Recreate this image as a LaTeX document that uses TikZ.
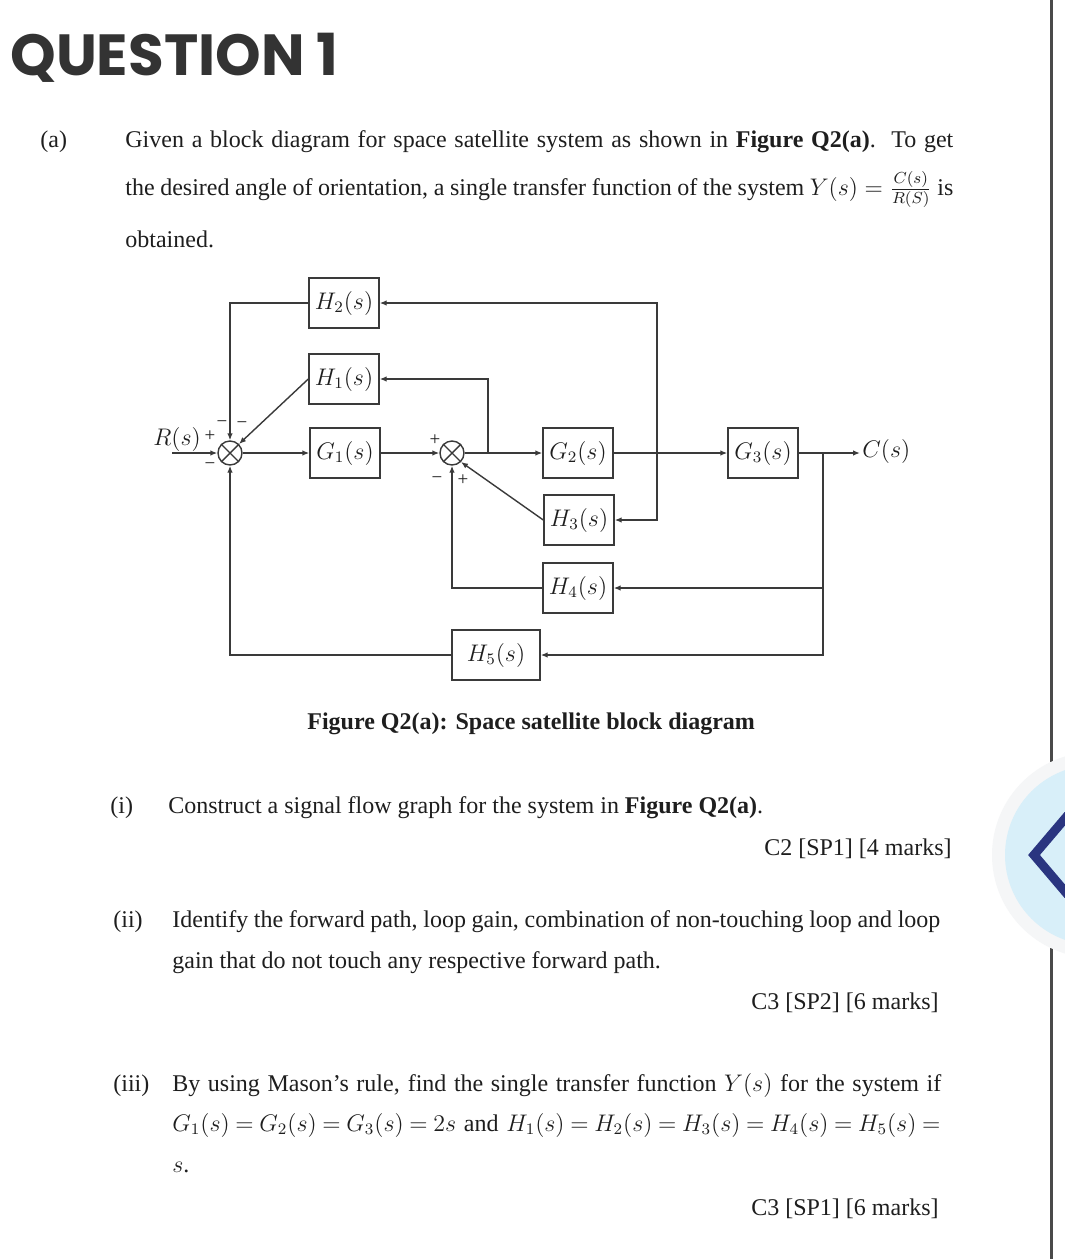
\documentclass[tikz,border=0pt]{standalone}
\usepackage{fontspec}
\usepackage{graphicx}
\setmainfont{Liberation Serif}
\newfontfamily\qfont{Poppins}
\usetikzlibrary{arrows.meta}
\definecolor{ink}{HTML}{1E1E1E}
\definecolor{wirec}{HTML}{3A3A3A}
\definecolor{qgray}{HTML}{333333}
\definecolor{barc}{HTML}{4A4A4A}
\definecolor{ringc}{HTML}{F5F6F7}
\definecolor{bluec}{HTML}{D8EFF9}
\definecolor{navyc}{HTML}{2A3580}
\tikzset{
  blk/.style={draw=wirec, line width=0.7pt, minimum width=35pt, minimum height=25pt, inner sep=0pt, text=ink, font=\fontsize{11.5}{12}\selectfont},
  sumj/.style={draw=wirec, circle, line width=0.7pt, minimum size=12pt, inner sep=0pt},
  ln/.style={draw=wirec, line width=0.7pt},
  arr/.style={ln, -{Latex[length=3.5pt,width=2.8pt]}},
  sgn/.style={font=\fontsize{9.5}{10}\selectfont, inner sep=0pt, text=ink},
  txt/.style={anchor=base west, inner sep=0pt, text=ink, font=\fontsize{12}{14}\selectfont},
  rtxt/.style={txt, anchor=base east},
}
\begin{document}
\begin{tikzpicture}[x=0.5pt, y=-0.5pt]
\fill[white] (0,0) rectangle (1065,1259);
\useasboundingbox (0,0) rectangle (1065,1259);

% right bar and button
\draw[barc, line width=1.5pt] (1051,0) -- (1051,1259);
\fill[ringc] (1095,855) circle[radius=51.5pt];
\fill[bluec] (1095,855) circle[radius=45pt];
\draw[navyc, line width=4.5pt, line join=miter] (1068,815) -- (1034,855) -- (1068,895);

% title
\node[anchor=base west, inner sep=0pt, text=qgray, font=\qfont\bfseries\fontsize{29}{31}\selectfont] (title) at (10,75) {QUESTION 1};

% part (a)
\node[txt] (pa) at (40,147) {(a)};
\node[txt] (l1) at (125,147) {\makebox[414pt][s]{Given a block diagram for space satellite system as shown in \textbf{Figure Q2(a)}.\ \ To get}};
\node[txt] (l2) at (125,195) {\makebox[414pt][s]{the desired angle of orientation, a single transfer function of the system $Y(s) = \frac{C(s)}{R(S)}$ is}};
\node[txt] (l3) at (125,247) {obtained.};

% block diagram
\node[blk] (H2) at (344,303) {$H_2(s)$};
\node[blk] (H1) at (344,379) {$H_1(s)$};
\node[blk] (G1) at (345,453) {$G_1(s)$};
\node[blk] (G2) at (578,453) {$G_2(s)$};
\node[blk] (H3) at (579,520) {$H_3(s)$};
\node[blk] (H4) at (578,588) {$H_4(s)$};
\node[blk, minimum width=44pt] (H5) at (496,655) {$H_5(s)$};
\node[blk] (G3) at (763,453) {$G_3(s)$};
\node[sumj] (s1) at (230,453) {};
\node[sumj] (s2) at (452,453) {};
\draw[ln] (s1.north west) -- (s1.south east) (s1.north east) -- (s1.south west);
\draw[ln] (s2.north west) -- (s2.south east) (s2.north east) -- (s2.south west);

\coordinate (rin) at (172,453);
\coordinate (b1) at (488,453);
\coordinate (t1) at (657,453);
\coordinate (t2) at (823,453);
\coordinate (cout) at (860,453);

\draw[arr] (rin) -- (s1.west);
\draw[arr] (s1.east) -- (G1.west);
\draw[arr] (G1.east) -- (s2.west);
\draw[arr] (s2.east) -- (G2.west);
\draw[arr] (G2.east) -- (G3.west);
\draw[arr] (G3.east) -- (cout);
\draw[arr] (b1) |- (H1.east);
\draw[arr] (H1.west) -- (s1.north east);
\draw[arr] (H2.west) -| (s1.north);
\draw[arr] (t1) |- (H2.east);
\draw[arr] (t1) |- (H3.east);
\draw[arr] (H3.west) -- (s2.south east);
\draw[arr] (t2) |- (H4.east);
\draw[arr] (t2) |- (H5.east);
\draw[arr] (H4.west) -| (s2.south);
\draw[arr] (H5.west) -| (s1.south);

\node[anchor=west, inner sep=0pt, text=ink, font=\fontsize{11.5}{12}\selectfont] (Cs) at (862,451) {$C(s)$};
\node[inner sep=0pt, text=ink, font=\fontsize{11.5}{12}\selectfont] (Rs) at (177,439) {$R(s)$};
\node[sgn] (p1) at (210,436) {+};
\node[sgn] (m1) at (210,466) {−};
\node[sgn] (m2) at (222,424) {−};
\node[sgn] (m3) at (242,425) {−};
\node[sgn] (p2) at (435,440) {+};
\node[sgn] (m4) at (437,480) {−};
\node[sgn] (p3) at (463,480) {+};

\node[txt, font=\fontsize{12}{14}\selectfont\bfseries] (cap) at (307,729) {Figure Q2(a): Space satellite block diagram};

% part (i)
\node[txt] (pi) at (110,813) {(i)};
\node[txt] (ti) at (168,813) {Construct a signal flow graph for the system in \textbf{Figure Q2(a)}.};
\node[rtxt] (mi) at (952,855) {C2 [SP1] [4 marks]};

% part (ii)
\node[txt] (pii) at (113,927) {(ii)};
\node[txt] (tii1) at (172,927) {\makebox[384pt][s]{Identify the forward path, loop gain, combination of non-touching loop and loop}};
\node[txt] (tii2) at (172,968) {gain that do not touch any respective forward path.};
\node[rtxt] (mii) at (939,1009) {C3 [SP2] [6 marks]};

% part (iii)
\node[txt] (piii) at (113,1091) {(iii)};
\node[txt] (tiii1) at (172,1091) {\makebox[384.5pt][s]{By using Mason’s rule, find the single transfer function $Y(s)$ for the system if}};
\node[txt] (tiii2) at (172,1131) {\thickmuskip=2mu plus 4mu\makebox[384pt][s]{$G_1(s) = G_2(s) = G_3(s) = 2s$ and $H_1(s) = H_2(s) = H_3(s) = H_4(s) = H_5(s) =$}};
\node[txt] (tiii3) at (172,1172) {$s$.};
\node[rtxt] (miii) at (939,1215) {C3 [SP1] [6 marks]};
\end{tikzpicture}
\end{document}
